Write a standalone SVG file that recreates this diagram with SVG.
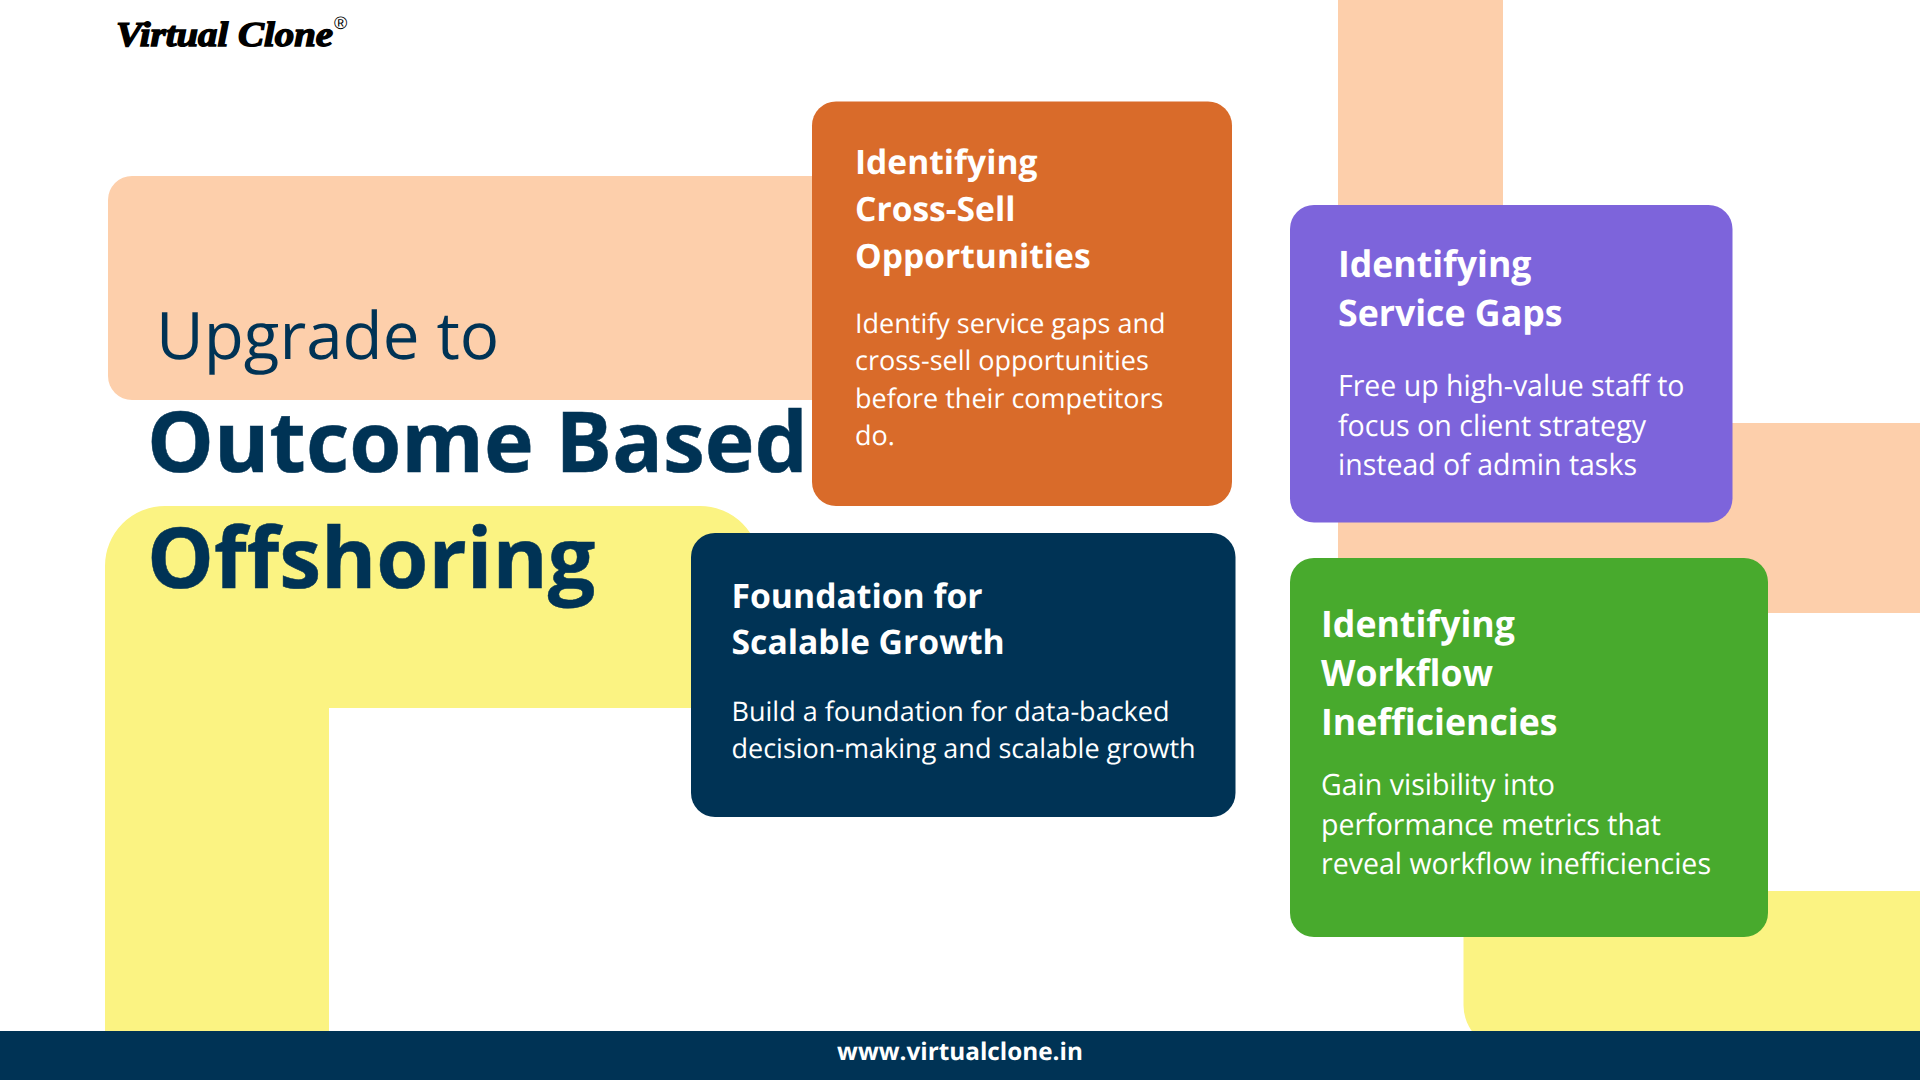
<svg xmlns="http://www.w3.org/2000/svg" width="1920" height="1080" viewBox="0 0 1920 1080">
<style>
text{font-family:"Open Sans","Noto Sans",sans-serif;text-rendering:geometricPrecision}
.p{fill:#FDCFAB}.y{fill:#FBF382}.n{fill:#003355}
.t{fill:#fff;font-weight:700}
.b{fill:#fff;font-weight:400}
.h{fill:#003355;stroke:#003355;stroke-width:.5px;font-weight:700;font-size:84.2px}
.o .t{font-size:33.6px}.o .b{font-size:27px}
.u .t,.g .t{font-size:36.5px}.u .b,.g .b{font-size:29.3px}
.f .t{font-size:33.7px}.f .b{font-size:27px}
</style>
<rect width="1920" height="1080" fill="#fff"/>
<g id="background">
<rect class="p" x="108" y="176" width="760" height="224" rx="24"/>
<path class="y" d="M105 1031V566a60 60 0 0 1 60-60H700a60 60 0 0 1 60 60V708H329V1031Z"/>
<path class="p" d="M1338 0H1503V423H1920V613H1338Z"/>
<path class="y" d="M1463.500 891H1920V1050H1508.500a45 45 0 0 1-45-45Z"/>
</g>
<g id="logo">
<text x="116" y="46" font-size="35" font-weight="700" font-style="italic" fill="#000" stroke="#000" stroke-width="1.4" textLength="217" lengthAdjust="spacingAndGlyphs" style="font-family:'Liberation Serif',serif">Virtual Clone</text>
<text x="334" y="29" font-size="18" fill="#000" style="font-family:'Liberation Sans',sans-serif">®</text>
</g>
<g id="headline">
<text x="156" y="359" font-size="65.500" font-weight="400" fill="#003355">Upgrade to</text>
<text class="h" x="147" y="472">Outcome Based</text>
<text class="h" x="147" y="588">Offshoring</text>
</g>
<g id="card-cross-sell" class="o">
<rect x="812" y="101.500" width="420" height="404.500" rx="24" fill="#D96B2A"/>
<text class="t" x="855" y="173.500">Identifying</text>
<text class="t" x="855" y="221">Cross-Sell</text>
<text class="t" x="855" y="268">Opportunities</text>
<text class="b" x="855" y="333">Identify service gaps and</text>
<text class="b" x="855" y="370">cross-sell opportunities</text>
<text class="b" x="855" y="408">before their competitors</text>
<text class="b" x="855" y="445">do.</text>
</g>
<g id="card-service-gaps" class="u">
<rect x="1290" y="205" width="442.500" height="317.500" rx="24" fill="#7D64DB"/>
<text class="t" x="1338" y="277" textLength="193.500" lengthAdjust="spacingAndGlyphs">Identifying</text>
<text class="t" x="1338" y="326" textLength="224.500" lengthAdjust="spacingAndGlyphs">Service Gaps</text>
<text class="b" x="1338" y="396" textLength="346.500" lengthAdjust="spacingAndGlyphs">Free up high-value staff to</text>
<text class="b" x="1338" y="436" textLength="308" lengthAdjust="spacingAndGlyphs">focus on client strategy</text>
<text class="b" x="1338" y="475" textLength="299" lengthAdjust="spacingAndGlyphs">instead of admin tasks</text>
</g>
<g id="card-foundation" class="f">
<rect x="691" y="533" width="544.500" height="284" rx="24" fill="#003355"/>
<text class="t" x="731.500" y="608">Foundation for</text>
<text class="t" x="731.500" y="654">Scalable Growth</text>
<text class="b" x="731.500" y="721">Build a foundation for data-backed</text>
<text class="b" x="731.500" y="758">decision-making and scalable growth</text>
</g>
<g id="card-workflow" class="g">
<rect x="1290" y="558" width="478" height="379" rx="24" fill="#48AA2D"/>
<text class="t" x="1321" y="637" textLength="194" lengthAdjust="spacingAndGlyphs">Identifying</text>
<text class="t" x="1321" y="686" textLength="172" lengthAdjust="spacingAndGlyphs">Workflow</text>
<text class="t" x="1321" y="735" textLength="236.500" lengthAdjust="spacingAndGlyphs">Inefficiencies</text>
<text class="b" x="1321" y="795" textLength="234" lengthAdjust="spacingAndGlyphs">Gain visibility into</text>
<text class="b" x="1321" y="835" textLength="340" lengthAdjust="spacingAndGlyphs">performance metrics that</text>
<text class="b" x="1321" y="874" textLength="390" lengthAdjust="spacingAndGlyphs">reveal workflow inefficiencies</text>
</g>
<g id="footer">
<rect class="n" y="1031" width="1920" height="49"/>
<text x="960" y="1060" font-size="24.300" font-weight="700" fill="#fff" text-anchor="middle">www.virtualclone.in</text>
</g>
</svg>
